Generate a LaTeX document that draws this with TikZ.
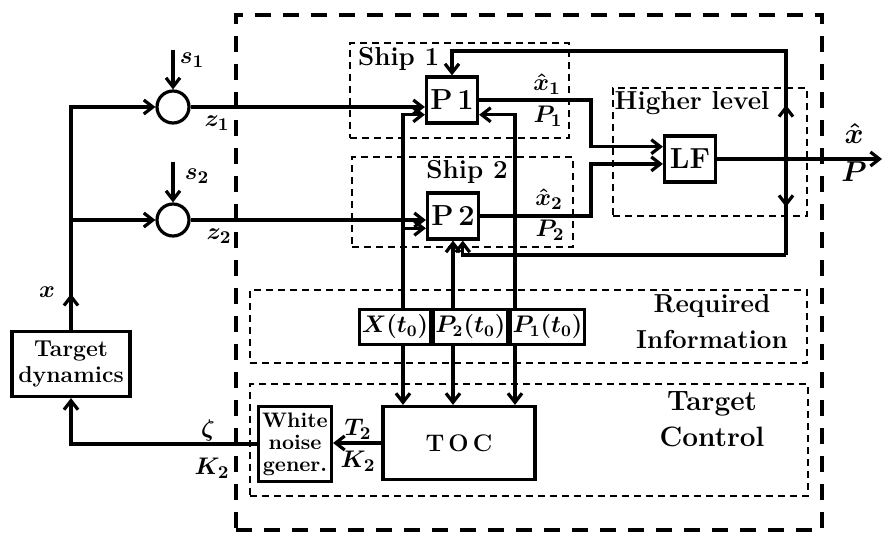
\documentclass[tikz,border=0pt]{standalone}
\usepackage{amsmath,amssymb}
\usepackage{fontspec}
\usepackage{tikz}
\usetikzlibrary{arrows.meta,positioning,fit,calc}

\begin{document}
\begin{tikzpicture}[
      x=0.5pt, y=-0.5pt, % coordenadas em pixels da figura
      >={Straight Barb[length=4.5pt,width=7pt]},
      bloco/.style={rectangle, draw, line width=1.6pt, align=center, inner sep=1pt},
      proc/.style={bloco, minimum width=25.5pt, minimum height=23pt,
        font=\fontsize{14.5}{14.5}\selectfont\bfseries},
      info/.style={bloco, minimum width=33pt, minimum height=17.5pt,
        font=\fontsize{11.5}{12}\selectfont\boldmath},
      somador/.style={circle, draw, line width=1.6pt, minimum size=16pt, inner sep=0pt},
      regiao/.style={rectangle, draw, line width=1.4pt, dash pattern=on 3.5pt off 2.5pt, inner sep=0pt},
      externa/.style={rectangle, draw, line width=1.6pt, dash pattern=on 8pt off 6pt, inner sep=0pt},
      rotulo/.style={font=\fontsize{13}{14}\selectfont\bfseries, align=center, inner sep=1pt},
      mrotulo/.style={font=\fontsize{13}{13}\selectfont\boldmath, inner sep=1pt},
      sinal/.style={->, line width=1.6pt},
  ]
      \useasboundingbox (0,0) rectangle (884,534);

      % --- REGIOES TRACEJADAS ---
      \node[externa, fit={(236,15) (822,530)}] (sistema) {};
      \node[regiao, fit={(350,43) (569,138)}] (ship1) {};
      \node[regiao, fit={(352,157) (573,247)}] (ship2) {};
      \node[regiao, fit={(613,88) (807,216)}] (higher) {};
      \node[regiao, fit={(250,290) (807,363)}] (reqinfo) {};
      \node[regiao, fit={(250,384) (808,496)}] (tgtctl) {};

      \node[rotulo, anchor=north west] at ($(ship1.north west)+(7,3)$) {Ship 1};
      \node[rotulo] at (467,172) {Ship 2};
      \node[rotulo] at (692,103) {Higher level};
      \node[rotulo, font=\fontsize{13}{18}\selectfont\bfseries] at (712,322) {Required\\Information};
      \node[rotulo, font=\fontsize{14}{18}\selectfont\bfseries] at (712,419) {Target\\Control};

      % --- BLOCOS ---
      \node[proc] (p1) at (452,100) {P\,1};
      \node[proc] (p2) at (453,216) {P\,2};
      \node[proc] (lf) at (690,159) {LF};

      \node[somador] (c1) at (173,107) {};
      \node[somador] (c2) at (173,220) {};

      \node[bloco, minimum width=59pt, minimum height=32.5pt,
        font=\fontsize{11.5}{13}\selectfont\bfseries] (td) at (71,364) {Target\\dynamics};
      \node[bloco, minimum width=36.5pt, minimum height=37.5pt,
        font=\fontsize{10.5}{11}\selectfont\bfseries] (wn) at (295,444) {White\\noise\\gener.};
      \node[bloco, minimum width=76pt, minimum height=36.5pt,
        font=\fontsize{12}{12}\selectfont\bfseries] (toc) at (459,443) {T\,O\,C};

      % --- INFORMACAO NECESSARIA ---
      \node[info] (xt) at (395,327) {$X(t_0)$};
      \node[info, right=0pt of xt] (pt2) {$P_2(t_0)$};
      \node[info, right=0pt of pt2] (pt1) {$P_1(t_0)$};

      % --- ROTULOS DOS SINAIS ---
      \node[mrotulo] at (192,60) {$s_1$};
      \node[mrotulo] at (197,176) {$s_2$};
      \node[mrotulo] at (217,123) {$z_1$};
      \node[mrotulo] at (219,236) {$z_2$};
      \node[mrotulo] at (47,292) {$x$};
      \node[mrotulo] at (208,431) {$\zeta$};
      \node[mrotulo] at (212,468) {$K_2$};
      \node[mrotulo] at (358,429) {$T_2$};
      \node[mrotulo] at (358,461) {$K_2$};
      \node[mrotulo] at (547,84) {$\hat{x}_1$};
      \node[mrotulo] at (548,116) {$P_1$};
      \node[mrotulo] at (549,199) {$\hat{x}_2$};
      \node[mrotulo] at (550,230) {$P_2$};
      \node[mrotulo, font=\fontsize{15}{15}\selectfont\boldmath] at (854,134) {$\hat{x}$};
      \node[mrotulo, font=\fontsize{15}{15}\selectfont\boldmath] at (854,172) {$P$};

      % --- PONTOS AUXILIARES ---
      \coordinate (s1top) at (173,50);
      \coordinate (s2top) at (173,162);
      \coordinate (colX) at (403,0);
      \coordinate (colP) at (515,0);
      \coordinate (colM) at (591,0);
      \coordinate (colF) at (786,0);
      \coordinate (saida) at (882,0);
      \coordinate (fbtop) at (786,51);
      \coordinate (fbbot) at (786,255);
      \coordinate (p1in) at ($(p1.west)!0.6!(p1.south west)$);
      \coordinate (p2in) at ($(p2.west)!0.5!(p2.south west)$);
      \coordinate (p1re) at ($(p1.east)!0.6!(p1.south east)$);
      \coordinate (p2fb) at ($(p2.south)!0.36!(p2.south east)$);
      \coordinate (lfin1) at ($(lf.west)!0.5!(lf.north west)$);
      \coordinate (lfin2) at ($(lf.west)!0.2!(lf.south west)$);
      \coordinate (jn) at (lf.east -| colF);

      % --- ALVO E MEDIDAS ---
      \draw[sinal] (td.north) -- ++(0,-36);
      \draw[sinal] (td.north) |- (c1.west);
      \draw[sinal] (td.north |- c2.west) -- (c2.west);
      \draw[sinal] (s1top) -- (c1.north);
      \draw[sinal] (s2top) -- (c2.north);
      \draw[sinal] (c1.east) -- (c1.east -| p1.west);
      \draw[sinal] (c2.east) -- (c2.east -| p2.west);

      % Informacao inicial para os navios e para o TOC
      \draw[sinal] (xt.north -| colX) |- (p1in);
      \draw[sinal] (p2in -| colX) -- (p2in);
      \draw[sinal] (pt2.north -| p2.south) -- (p2.south);
      \draw[sinal] (pt1.north -| colP) |- (p1re);
      \draw[sinal] (xt.south -| colX) -- (toc.north -| colX);
      \draw[sinal] (pt2.south -| p2.south) -- (toc.north -| p2.south);
      \draw[sinal] (pt1.south -| colP) -- (toc.north -| colP);

      % Estimativas para o LF
      \draw[sinal] (p1.east) -- (p1.east -| colM) |- (lfin1);
      \draw[sinal] (p2.east) -- (p2.east -| colM) |- (lfin2);

      % Saida e realimentacao
      \draw[sinal] (lf.east) -- (lf.east -| saida);
      \fill (jn) circle (1.6pt);
      \draw[sinal] (fbbot) -- (fbtop) -| (p1.north);
      \draw[sinal] (fbbot) -| (p2fb);
      \draw[sinal] (jn) -- ($(jn)!0.5!(fbtop)$);
      \draw[sinal] (jn) -- ($(jn)!0.5!(fbbot)$);

      % Controle do alvo
      \draw[sinal] (toc.west) -- (toc.west -| wn.east);
      \draw[sinal] (wn.west) -| (td.south);

  \end{tikzpicture}
\end{document}
